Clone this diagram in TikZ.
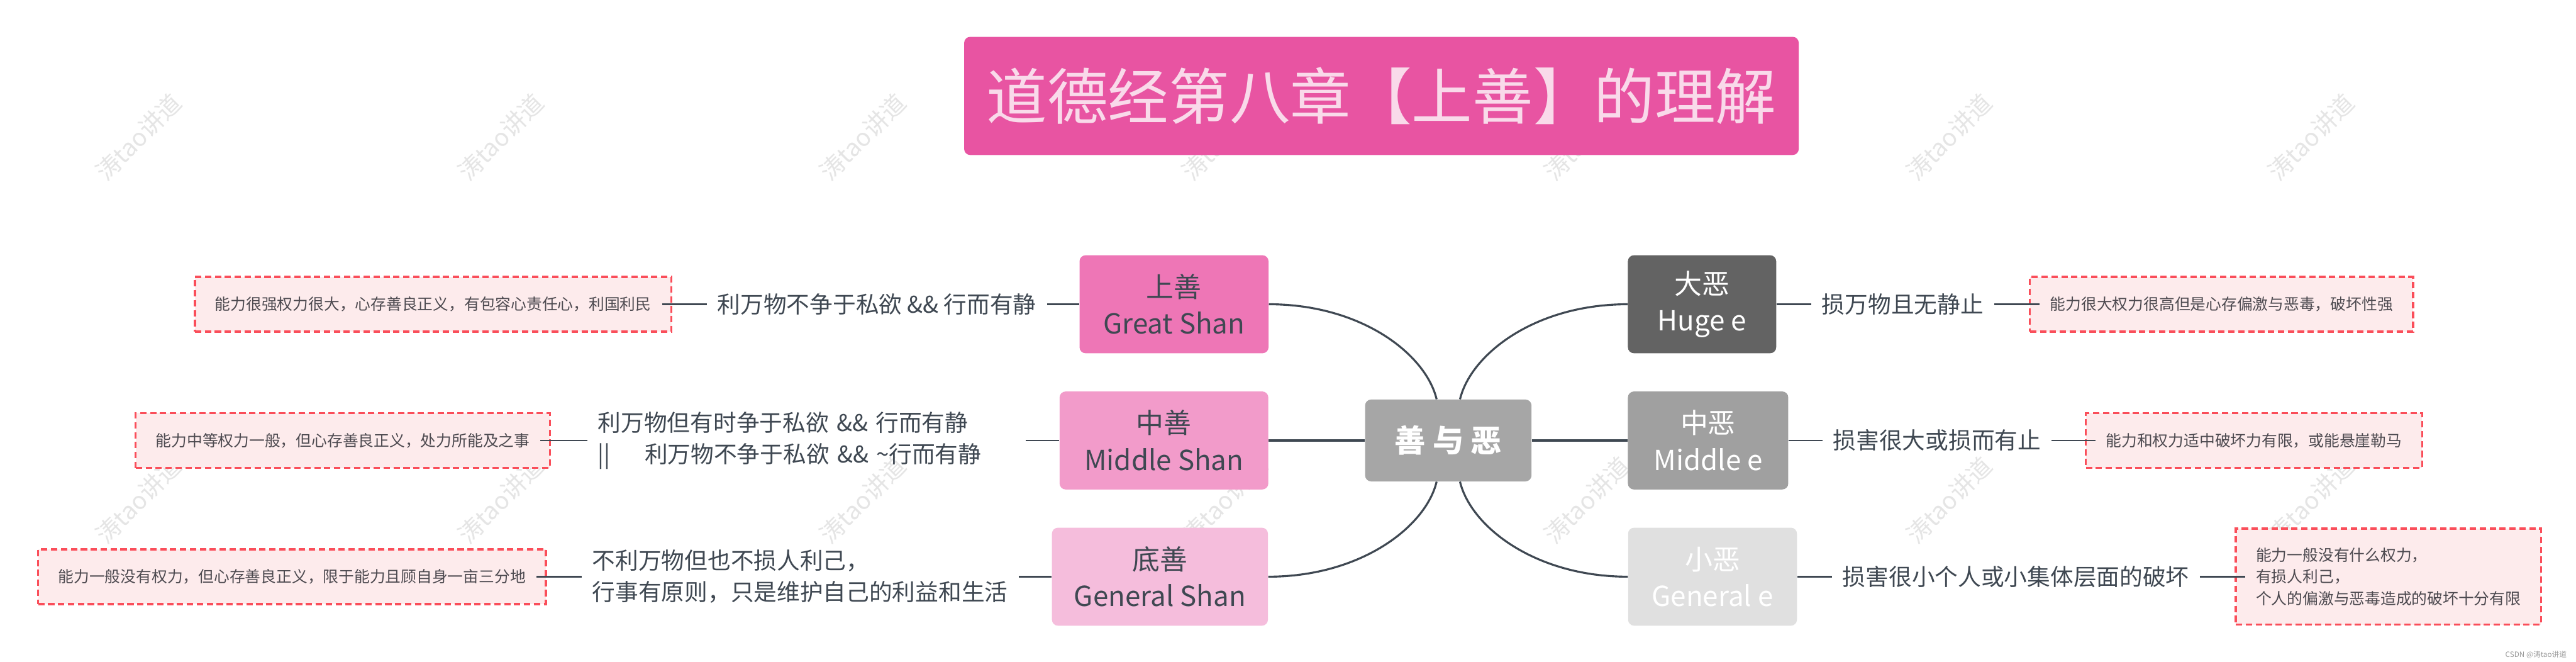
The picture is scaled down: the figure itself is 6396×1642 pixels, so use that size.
\documentclass[tikz,border=0pt]{standalone}
\usepackage{fontspec}
\setmainfont{Noto Sans CJK SC}
\usepackage{tikz}
\usetikzlibrary{positioning}
\usepackage{xcolor}
\definecolor{ink}{HTML}{3F4852}
\definecolor{ink2}{HTML}{4D4A50}
\definecolor{pink0}{HTML}{E854A2}
\definecolor{pinkt}{HTML}{F9DAEA}
\definecolor{pink1}{HTML}{EE76B6}
\definecolor{pink2}{HTML}{F29BCA}
\definecolor{pink3}{HTML}{F5BDDC}
\definecolor{grey0}{HTML}{A6A6A6}
\definecolor{grey1}{HTML}{636363}
\definecolor{grey2}{HTML}{A0A0A0}
\definecolor{grey3}{HTML}{E0E0E0}
\definecolor{red1}{HTML}{FA4E5A}
\definecolor{red2}{HTML}{FDEBEC}

\begin{document}
\begin{tikzpicture}[x=0.01cm,y=-0.01cm,
  topic/.style={rounded corners=0.15cm,minimum height=2.43cm,inner sep=0pt,align=center,font=\fontsize{19.5pt}{26pt}\selectfont},
  lbl/.style={inner xsep=0.26cm,inner ysep=0pt,text=ink,align=left,font=\fontsize{16.3pt}{22.3pt}\selectfont},
  note/.style={draw=red1,fill=red2,line width=1.5pt,dash pattern=on 4.5pt off 2.5pt,minimum height=1.36cm,inner xsep=0.5cm,text=ink2,align=left,font=\fontsize{11pt}{15.4pt}\selectfont},
  branch/.style={ink,line width=1.4pt},
  twig/.style={ink,line width=1.1pt},
  wm/.style={text=black!10,rotate=45,font=\fontsize{17pt}{20pt}\selectfont}]
  \fill[white] (0,0) rectangle (6396,1642);
  \useasboundingbox (0,0) rectangle (6396,1642);
  % watermark grid
  \foreach \i in {0,...,6} \foreach \j in {340,1241} \node[wm] at (344+899*\i,\j) {涛tao讲道};
  % title and root
  \node[topic,fill=pink0,text=pinkt,minimum width=20.71cm,minimum height=2.93cm,font=\fontsize{42.9pt}{50pt}\selectfont] (title) at (3430,238) {道德经第八章【上善】的理解};
  \node[topic,fill=grey0,text=white,minimum width=4.13cm,minimum height=2.03cm,font=\fontsize{21.9pt}{26pt}\selectfont\bfseries] (root) at (3596,1093) {善 与 恶};
  % left: good
  \node[topic,fill=pink1,text=ink,minimum width=4.69cm] (gs) at (2915,755) {上善\\Great Shan};
  \node[topic,fill=pink2,text=ink,minimum width=5.18cm] (ms) at (2890,1093) {中善\\Middle Shan};
  \node[topic,fill=pink3,text=ink,minimum width=5.36cm] (ls) at (2880,1431) {底善\\General Shan};
  \node[lbl,left=0.8cm of gs] (gsl) {利万物不争于私欲 \&\& 行而有静};
  \node[lbl,left=0.83cm of ms,text width=10.35cm] (msl) {\mbox{利万物但有时争于私欲 \&\& 行而有静}\\\mbox{||\hspace{0.85cm}利万物不争于私欲 \&\& \textasciitilde 行而有静}};
  \node[lbl,left=0.82cm of ls] (lsl) {不利万物但也不损人利己，\\行事有原则，只是维护自己的利益和生活};
  \node[note,left=0.85cm of gsl] (gsn) {能力很强权力很大，心存善良正义，有包容心责任心，利国利民};
  \node[note,left=0.9cm of msl] (msn) {能力中等权力一般，但心存善良正义，处力所能及之事};
  \node[note,left=0.86cm of lsl] (lsn) {能力一般没有权力，但心存善良正义，限于能力且顾自身一亩三分地};
  % right: evil
  \node[topic,fill=grey1,text=white,minimum width=3.68cm] (he) at (4226,755) {大恶\\Huge e};
  \node[topic,fill=grey2,text=white,minimum width=3.98cm] (me) at (4241,1093) {中恶\\Middle e};
  \node[topic,fill=grey3,text=white,minimum width=4.19cm] (le) at (4252,1431) {小恶\\General e};
  \node[lbl,right=0.86cm of he] (hel) {损万物且无静止};
  \node[lbl,right=0.84cm of me] (mel) {损害很大或损而有止};
  \node[lbl,right=0.86cm of le] (lel) {损害很小个人或小集体层面的破坏};
  \node[note,right=0.86cm of hel] (hen) {能力很大权力很高但是心存偏激与恶毒，破坏性强};
  \node[note,right=0.82cm of mel] (men) {能力和权力适中破坏力有限，或能悬崖勒马};
  \node[note,right=0.87cm of lel,minimum height=2.38cm] (len) {能力一般没有什么权力，\\有损人利己，\\个人的偏激与恶毒造成的破坏十分有限};
  % branches from the root
  \draw[branch] (root.west) -- (ms.east);
  \draw[branch] (root.east) -- (me.west);
  \draw[branch] (gs.east) .. controls +(230,0) and +(-27,-112) .. ([xshift=-0.29cm]root.north);
  \draw[branch] (ls.east) .. controls +(230,0) and +(-27,112) .. ([xshift=-0.29cm]root.south);
  \draw[branch] (he.west) .. controls +(-230,0) and +(27,-112) .. ([xshift=0.29cm]root.north);
  \draw[branch] (le.west) .. controls +(-230,0) and +(27,112) .. ([xshift=0.29cm]root.south);
  \foreach \a/\b in {gsl/gs,msl/ms,lsl/ls} \draw[twig] (\a.east) -- (\b.west);
  \foreach \a/\b in {gsn/gsl,msn/msl,lsn/lsl} \draw[twig] ([xshift=-0.26cm]\a.east) -- (\b.west);
  \foreach \a/\b in {he/hel,me/mel,le/lel} \draw[twig] (\a.east) -- (\b.west);
  \foreach \a/\b in {hel/hen,mel/men,lel/len} \draw[twig] (\a.east) -- ([xshift=0.26cm]\b.west);
  \node[anchor=east,text=black!40,font=\fontsize{5.2pt}{6pt}\selectfont] (csdn) at (6385,1625) {CSDN @涛tao讲道};
\end{tikzpicture}
\end{document}
